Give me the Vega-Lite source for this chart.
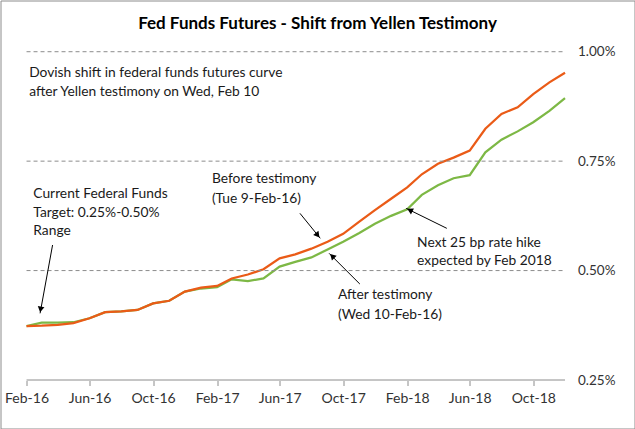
{
  "$schema": "https://vega.github.io/schema/vega-lite/v6.json",
  "width": 634,
  "height": 428,
  "autosize": "none",
  "padding": 0.5,
  "background": "white",
  "config": {"view": {"stroke": "#8c8c8c", "strokeWidth": 1}, "font": "Lato"},
  "title": {"text": "Fed Funds Futures - Shift from Yellen Testimony", "font": "Lato", "fontSize": 17, "fontWeight": "bold", "color": "#000000", "anchor": "middle", "offset": -40, "baseline": "middle"},
  "datasets": {
    "curve": [
      {"month": "2016/02/01", "before": 0.373, "after": 0.373},
      {"month": "2016/03/01", "before": 0.374, "after": 0.381},
      {"month": "2016/04/01", "before": 0.376, "after": 0.381},
      {"month": "2016/05/01", "before": 0.380, "after": 0.382},
      {"month": "2016/06/01", "before": 0.391, "after": 0.391},
      {"month": "2016/07/01", "before": 0.405, "after": 0.405},
      {"month": "2016/08/01", "before": 0.407, "after": 0.407},
      {"month": "2016/09/01", "before": 0.410, "after": 0.410},
      {"month": "2016/10/01", "before": 0.425, "after": 0.425},
      {"month": "2016/11/01", "before": 0.431, "after": 0.431},
      {"month": "2016/12/01", "before": 0.452, "after": 0.452},
      {"month": "2017/01/01", "before": 0.461, "after": 0.459},
      {"month": "2017/02/01", "before": 0.465, "after": 0.462},
      {"month": "2017/03/01", "before": 0.482, "after": 0.480},
      {"month": "2017/04/01", "before": 0.491, "after": 0.476},
      {"month": "2017/05/01", "before": 0.503, "after": 0.482},
      {"month": "2017/06/01", "before": 0.528, "after": 0.509},
      {"month": "2017/07/01", "before": 0.537, "after": 0.520},
      {"month": "2017/08/01", "before": 0.550, "after": 0.530},
      {"month": "2017/09/01", "before": 0.566, "after": 0.548},
      {"month": "2017/10/01", "before": 0.584, "after": 0.566},
      {"month": "2017/11/01", "before": 0.612, "after": 0.586},
      {"month": "2017/12/01", "before": 0.638, "after": 0.607},
      {"month": "2018/01/01", "before": 0.664, "after": 0.625},
      {"month": "2018/02/01", "before": 0.690, "after": 0.640},
      {"month": "2018/03/01", "before": 0.720, "after": 0.673},
      {"month": "2018/04/01", "before": 0.744, "after": 0.695},
      {"month": "2018/05/01", "before": 0.758, "after": 0.711},
      {"month": "2018/06/01", "before": 0.774, "after": 0.718},
      {"month": "2018/07/01", "before": 0.824, "after": 0.770},
      {"month": "2018/08/01", "before": 0.858, "after": 0.799},
      {"month": "2018/09/01", "before": 0.873, "after": 0.818},
      {"month": "2018/10/01", "before": 0.903, "after": 0.839},
      {"month": "2018/11/01", "before": 0.930, "after": 0.865},
      {"month": "2018/12/01", "before": 0.952, "after": 0.894}
    ],
    "grid": [{"rate": 0.5}, {"rate": 0.75}, {"rate": 1.0}],
    "notes": [
      {"date": "2016/02/06", "rate": 0.9507, "text": "Dovish shift in federal funds futures curve"},
      {"date": "2016/02/06", "rate": 0.9086, "text": "after Yellen testimony on Wed, Feb 10"},
      {"date": "2016/02/14", "rate": 0.6749, "text": "Current Federal Funds"},
      {"date": "2016/02/14", "rate": 0.6322, "text": "Target: 0.25%-0.50%"},
      {"date": "2016/02/14", "rate": 0.5910, "text": "Range"},
      {"date": "2017/01/22", "rate": 0.7085, "text": "Before testimony"},
      {"date": "2017/01/22", "rate": 0.6628, "text": "(Tue 9-Feb-16)"},
      {"date": "2017/09/21", "rate": 0.4441, "text": "After testimony"},
      {"date": "2017/09/21", "rate": 0.3985, "text": "(Wed 10-Feb-16)"},
      {"date": "2018/02/20", "rate": 0.5636, "text": "Next 25 bp rate hike"},
      {"date": "2018/02/20", "rate": 0.5225, "text": "expected by Feb 2018"}
    ],
    "arrows": [
      {"id": "target", "date": "2016/03/22", "rate": 0.5584, "date2": "2016/02/27", "rate2": 0.4023},
      {"id": "before", "date": "2017/07/10", "rate": 0.6308, "date2": "2017/08/18", "rate2": 0.5737},
      {"id": "after", "date": "2017/11/02", "rate": 0.4693, "date2": "2017/09/04", "rate2": 0.5394},
      {"id": "hike", "date": "2018/04/18", "rate": 0.5965, "date2": "2018/01/30", "rate2": 0.6422}
    ],
    "heads": [
      {"id": "target", "date": "2016/02/28", "rate": 0.4112},
      {"id": "before", "date": "2017/08/13", "rate": 0.5808},
      {"id": "after", "date": "2017/09/10", "rate": 0.5330},
      {"id": "hike", "date": "2018/02/06", "rate": 0.6381}
    ]
  },
  "layer": [
    {
      "data": {"name": "curve"},
      "transform": [{"fold": ["after", "before"], "as": ["series", "rate"]}],
      "mark": {"type": "line", "strokeWidth": 2.25},
      "encoding": {
        "x": {
          "field": "month", "type": "temporal",
          "scale": {"domain": [{"year": 2015, "month": 12, "date": 13}, {"year": 2019, "month": 4, "date": 13, "hours": 10}], "nice": false},
          "axis": {
            "values": [
              {"year": 2016, "month": 2, "date": 1}, {"year": 2016, "month": 6, "date": 1}, {"year": 2016, "month": 10, "date": 1},
              {"year": 2017, "month": 2, "date": 1}, {"year": 2017, "month": 6, "date": 1}, {"year": 2017, "month": 10, "date": 1},
              {"year": 2018, "month": 2, "date": 1}, {"year": 2018, "month": 6, "date": 1}, {"year": 2018, "month": 10, "date": 1}
            ],
            "format": "%b-%y", "offset": -48, "domain": false, "grid": false,
            "ticks": true, "tickSize": 5, "tickColor": "#8c8c8c",
            "labelPadding": 6, "labelFont": "Lato", "labelFontSize": 14, "labelColor": "#333333", "title": null
          }
        },
        "y": {
          "field": "rate", "type": "quantitative",
          "scale": {"domain": [0.1392, 1.117], "nice": false, "zero": false},
          "axis": {
            "orient": "right", "offset": -64, "values": [0.25, 0.5, 0.75, 1.0],
            "labelExpr": "format(datum.value, '.2f') + '%'",
            "domain": false, "ticks": false, "grid": false, "labelPadding": 7,
            "labelFont": "Lato", "labelFontSize": 13.5, "labelColor": "#333333", "title": null
          }
        },
        "color": {"field": "series", "type": "nominal", "scale": {"domain": ["after", "before"], "range": ["#7DB845", "#EA5B17"]}, "legend": null}
      }
    },
    {
      "data": {"name": "grid"},
      "mark": {"type": "rule", "color": "#8c8c8c", "strokeDash": [4, 3], "strokeWidth": 1},
      "encoding": {
        "x": {"datum": {"year": 2016, "month": 2, "date": 1}, "type": "temporal"},
        "x2": {"datum": {"year": 2018, "month": 11, "date": 28}},
        "y": {"field": "rate", "type": "quantitative"}
      }
    },
    {
      "data": {"name": "grid"},
      "transform": [{"filter": "datum.rate == 0.5"}],
      "mark": {"type": "rule", "color": "#8c8c8c", "strokeWidth": 1},
      "encoding": {
        "x": {"datum": {"year": 2016, "month": 2, "date": 1}, "type": "temporal"},
        "x2": {"datum": {"year": 2018, "month": 12, "date": 1}},
        "y": {"datum": 0.25, "type": "quantitative"}
      }
    },
    {
      "data": {"name": "arrows"},
      "mark": {"type": "rule", "color": "#000000", "strokeWidth": 1},
      "encoding": {
        "x": {"field": "date", "type": "temporal"},
        "y": {"field": "rate", "type": "quantitative"},
        "x2": {"field": "date2"},
        "y2": {"field": "rate2"}
      }
    },
    {
      "data": {"name": "heads"},
      "transform": [{"filter": "datum.id == 'target'"}],
      "mark": {"type": "point", "shape": "triangle-up", "filled": true, "color": "#000000", "size": 45, "angle": 190.5, "opacity": 1},
      "encoding": {"x": {"field": "date", "type": "temporal"}, "y": {"field": "rate", "type": "quantitative"}}
    },
    {
      "data": {"name": "heads"},
      "transform": [{"filter": "datum.id == 'before'"}],
      "mark": {"type": "point", "shape": "triangle-up", "filled": true, "color": "#000000", "size": 45, "angle": 141.3, "opacity": 1},
      "encoding": {"x": {"field": "date", "type": "temporal"}, "y": {"field": "rate", "type": "quantitative"}}
    },
    {
      "data": {"name": "heads"},
      "transform": [{"filter": "datum.id == 'after'"}],
      "mark": {"type": "point", "shape": "triangle-up", "filled": true, "color": "#000000", "size": 45, "angle": 315, "opacity": 1},
      "encoding": {"x": {"field": "date", "type": "temporal"}, "y": {"field": "rate", "type": "quantitative"}}
    },
    {
      "data": {"name": "heads"},
      "transform": [{"filter": "datum.id == 'hike'"}],
      "mark": {"type": "point", "shape": "triangle-up", "filled": true, "color": "#000000", "size": 45, "angle": 296.2, "opacity": 1},
      "encoding": {"x": {"field": "date", "type": "temporal"}, "y": {"field": "rate", "type": "quantitative"}}
    },
    {
      "data": {"name": "notes"},
      "mark": {"type": "text", "align": "left", "baseline": "middle", "font": "Lato", "fontSize": 13.8, "color": "#1a1a1a"},
      "encoding": {
        "x": {"field": "date", "type": "temporal"},
        "y": {"field": "rate", "type": "quantitative"},
        "text": {"field": "text"}
      }
    }
  ]
}
